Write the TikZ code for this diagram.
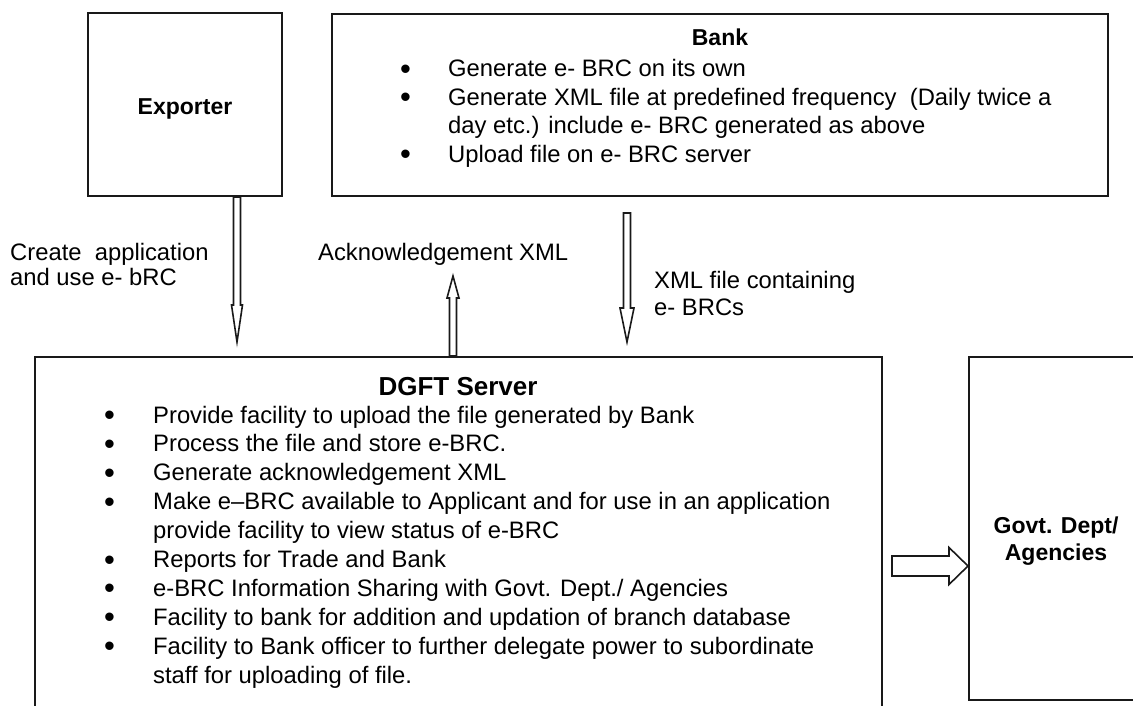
\documentclass[tikz,border=0pt]{standalone}
\usepackage{fontspec}
\usepackage{graphicx}
\setmainfont{Liberation Sans}
\usetikzlibrary{calc}

\newcommand\txtfont{\fontsize{23.8}{28.5}\selectfont}
\newcommand\dgftfont{\fontsize{23.8}{28.9}\selectfont}
\newcommand\headfont{\fontsize{23}{27}\selectfont\bfseries}
% slightly heavier list bullet
\newcommand\bul{\raisebox{-2.5pt}{\scalebox{1.3}{\textbullet}}}

% block arrow outline: tail, tip, half shaft width, half head width, head length
\newcommand\blockarr[5]{%
  \path ($(#2)!#5!(#1)$) coordinate (bah);
  \draw[barrow] ($(#1)!#3!90:(#2)$) -- ($(bah)!#3!-90:(#1)$) -- ($(bah)!#4!-90:(#1)$)
    -- (#2) -- ($(bah)!#4!90:(#1)$) -- ($(bah)!#3!90:(#1)$) -- ($(#1)!#3!-90:(#2)$) -- cycle;}

\begin{document}
\begin{tikzpicture}[x=1pt,y=-1pt,
  box/.style={draw=black!90, line width=2pt, inner sep=0pt, fill=white},
  barrow/.style={draw=black!90, line width=1.6pt, fill=white, line join=miter},
  lbl/.style={inner sep=0pt, font=\txtfont, align=left},
  head/.style={inner sep=0pt, font=\headfont, align=center}]
\useasboundingbox (0,0) rectangle (1133,706);

% boxes
\node[box, minimum width=194pt, minimum height=183pt] (exp) at (185,104.5) {};
\node[box, minimum width=776pt, minimum height=182pt] (bank) at (720,105) {};
\node[box, minimum width=847pt, minimum height=363pt] (dgft) at (458.5,538.5) {};
\node[box, minimum width=176pt, minimum height=343pt] (govt) at (1057,528.5) {};

% box titles (base anchor = baseline of the last line)
\node[head, anchor=base] (exptitle) at (185,115) {Exporter};
\node[head, anchor=base] (banktitle) at (720,46) {Bank};
\node[inner sep=0pt, font=\fontsize{26}{30}\selectfont\bfseries, anchor=base] (dgfttitle) at (458,395) {DGFT Server};
\node[head, anchor=base, font=\fontsize{23}{27}\selectfont\bfseries] (govttitle) at (1056,560) {Govt. Dept/\\Agencies};

% bank duties
\node[lbl, anchor=base west] (banklist) at (400,77) {%
  \begin{tabular}[t]{@{}p{48pt}@{}l@{}}
  \bul & Generate e- BRC on its own\\
  \bul & Generate XML file at predefined frequency\ \ (Daily twice a\\
       & day etc.) include e- BRC generated as above\\
  \bul & Upload file on e- BRC server
  \end{tabular}};

% DGFT server duties
\node[inner sep=0pt, font=\dgftfont, anchor=base west] (dgftlist) at (104,423) {%
  \begin{tabular}[t]{@{}p{49pt}@{}l@{}}
  \bul & Provide facility to upload the file generated by Bank\\
  \bul & Process the file and store e-BRC.\\
  \bul & Generate acknowledgement XML\\
  \bul & Make e–BRC available to Applicant and for use in an application\\
       & provide facility to view status of e-BRC\\
  \bul & Reports for Trade and Bank\\
  \bul & e-BRC Information Sharing with Govt. Dept./ Agencies\\
  \bul & Facility to bank for addition and updation of branch database\\
  \bul & Facility to Bank officer to further delegate power to subordinate\\
       & staff for uploading of file.
  \end{tabular}};

% connector end points
\coordinate (expout) at (exp.south -| 237,0);
\coordinate (expin) at (237,342);
\coordinate (ackout) at (dgft.north -| 453,0);
\coordinate (ackin) at (453,276);
\coordinate (bankout) at (627,213);
\coordinate (bankin) at (627,342);
\coordinate (govtout) at (892,566);
\coordinate (govtin) at (govt.west |- 0,566);

% block arrows
\blockarr{expout}{expin}{3.5pt}{5.5pt}{37pt}
\blockarr{ackout}{ackin}{3.5pt}{6pt}{22pt}
\blockarr{bankout}{bankin}{3.5pt}{7pt}{34pt}
\blockarr{govtout}{govtin}{10pt}{18.5pt}{19pt}

% arrow labels
\node[lbl, anchor=base west, font=\fontsize{23.8}{25}\selectfont] (createlbl) at (10,285) {Create\ \ application\\and use e- bRC};
\node[lbl, anchor=base west] (acklbl) at (318,260) {Acknowledgement XML};
\node[lbl, anchor=base west, font=\fontsize{23.8}{27}\selectfont] (xmllbl) at (654,315) {XML file containing\\e- BRCs};
\end{tikzpicture}
\end{document}
